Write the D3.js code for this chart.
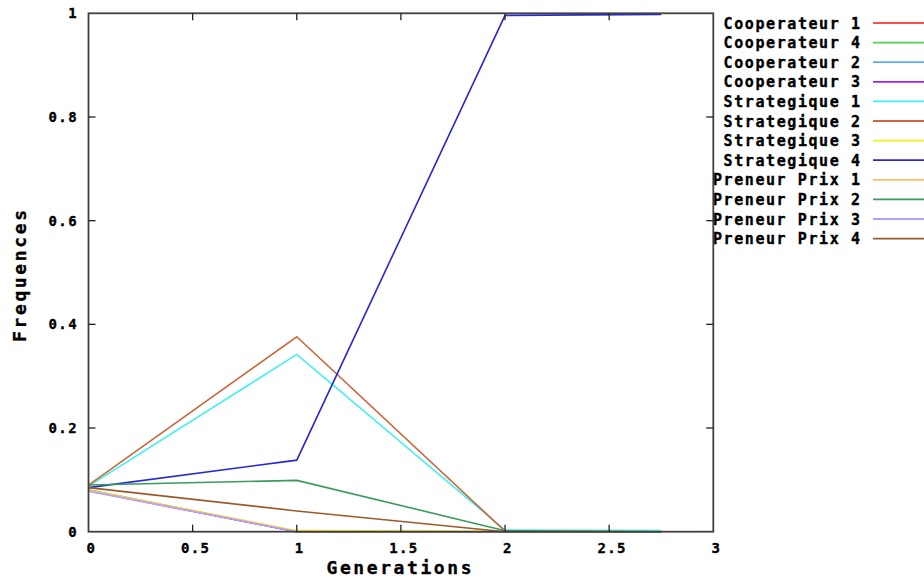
<!DOCTYPE html>
<html><head><meta charset="utf-8">
<script src="https://cdn.jsdelivr.net/npm/d3@7"></script>
<style>
html,body{margin:0;padding:0;background:#fff;}
svg{display:block;}
text{font-family:"DejaVu Sans Mono",monospace;font-weight:bold;fill:#000;stroke:#000;stroke-width:0.35px;}
</style></head>
<body>
<svg id="chart" width="924" height="579"></svg>
<script>
const generations = [0, 1, 2, 2.75];
const seriesNames = ["Cooperateur 1","Cooperateur 4","Cooperateur 2","Cooperateur 3","Strategique 1","Strategique 2","Strategique 3","Strategique 4","Preneur Prix 1","Preneur Prix 2","Preneur Prix 3","Preneur Prix 4"];
const cooperateur1 = [0.080, 0, 0, 0];
const cooperateur4 = [0.081, 0, 0, 0];
const cooperateur2 = [0.080, 0, 0, 0];
const cooperateur3 = [0.079, 0, 0, 0];
const strategique1 = [0.088, 0.342, 0.003, 0.002];
const strategique2 = [0.090, 0.376, 0.001, 0];
const strategique3 = [0.080, 0.002, 0.001, 0];
const strategique4 = [0.085, 0.138, 0.996, 0.998];
const preneurPrix1 = [0.080, 0.001, 0, 0];
const preneurPrix2 = [0.090, 0.099, 0.002, 0];
const preneurPrix3 = [0.078, 0, 0, 0];
const preneurPrix4 = [0.085, 0.040, 0, 0];
const seriesValues = [cooperateur1,cooperateur4,cooperateur2,cooperateur3,strategique1,strategique2,strategique3,strategique4,preneurPrix1,preneurPrix2,preneurPrix3,preneurPrix4];
const colors = ["#ff5050","#50d050","#5ca8ff","#a020f0","#40f0f0","#c8683c","#f0f020","#2828d0","#ffc060","#3a9a60","#b0a0ff","#9a5a2a"];
const xTicks = [0, 0.5, 1, 1.5, 2, 2.5, 3];
const yTicks = [0, 0.2, 0.4, 0.6, 0.8, 1];
const xTitle = "Generations";
const yTitle = "Frequences";

const svg = d3.select("#chart");
const L = 88.5, R = 713.3, T = 13.3, B = 531.7;
const x = d3.scaleLinear().domain([0, 3]).range([L, R]);
const y = d3.scaleLinear().domain([0, 1]).range([B, T]);

// series lines
const line = d3.line().x((d, i) => x(generations[i])).y(d => y(d));
const g = svg.append("g");
seriesValues.forEach((vals, k) => {
  g.append("path").attr("d", line(vals)).attr("fill", "none")
    .attr("stroke", colors[k]).attr("stroke-width", 1.6).attr("stroke-linejoin", "miter");
});

// frame
svg.append("rect").attr("x", L).attr("y", T).attr("width", R - L).attr("height", B - T)
  .attr("fill", "none").attr("stroke", "#404040").attr("stroke-width", 1.8);

// ticks (mirrored, inward)
const tl = 7;
xTicks.forEach(v => {
  if (v === 0 || v === 3) return;
  svg.append("line").attr("x1", x(v)).attr("x2", x(v)).attr("y1", B).attr("y2", B - tl).attr("stroke", "#222").attr("stroke-width", 1.3);
  svg.append("line").attr("x1", x(v)).attr("x2", x(v)).attr("y1", T).attr("y2", T + tl).attr("stroke", "#222").attr("stroke-width", 1.3);
});
yTicks.forEach(v => {
  if (v === 0 || v === 1) return;
  svg.append("line").attr("x1", L).attr("x2", L + tl).attr("y1", y(v)).attr("y2", y(v)).attr("stroke", "#222").attr("stroke-width", 1.3);
  svg.append("line").attr("x1", R).attr("x2", R - tl).attr("y1", y(v)).attr("y2", y(v)).attr("stroke", "#222").attr("stroke-width", 1.3);
});
const fmt = v => String(v);
xTicks.forEach(v => {
  svg.append("text").attr("x", x(v) + 3).attr("y", 553).attr("text-anchor", "middle")
    .style("font-size", "14px").style("letter-spacing", "1.4px").text(fmt(v));
});
yTicks.forEach(v => {
  svg.append("text").attr("x", 78).attr("y", y(v) + 5).attr("text-anchor", "end")
    .style("font-size", "14px").style("letter-spacing", "1.4px").text(fmt(v));
});

// axis titles
svg.append("text").attr("x", 399).attr("y", 574).attr("text-anchor", "middle")
  .style("font-size", "18px").attr("textLength", 145).attr("lengthAdjust", "spacing").text(xTitle);
svg.append("text").attr("transform", "translate(26,276) rotate(-90)").attr("text-anchor", "middle")
  .style("font-size", "18px").attr("textLength", 132).attr("lengthAdjust", "spacing").text(yTitle);

// legend
seriesNames.forEach((name, k) => {
  const yy = 23 + k * 19.6;
  const w = name.length * 10.65;
  svg.append("text").attr("x", 862 - w).attr("y", yy + 5.5)
    .style("font-size", "15px").attr("textLength", w - 2).attr("lengthAdjust", "spacing").text(name);
  svg.append("line").attr("x1", 873).attr("x2", 930).attr("y1", yy).attr("y2", yy)
    .attr("stroke", colors[k]).attr("stroke-width", 1.8);
});
</script>
</body></html>
